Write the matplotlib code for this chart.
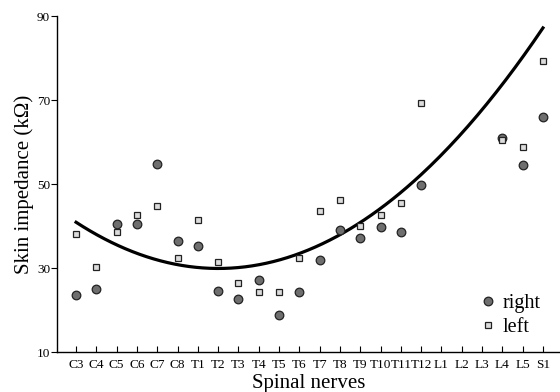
import matplotlib
matplotlib.use("Agg")
import matplotlib.pyplot as plt
import numpy as np

nerves = ["C3", "C4", "C5", "C6", "C7", "C8",
          "T1", "T2", "T3", "T4", "T5", "T6", "T7", "T8", "T9", "T10", "T11", "T12",
          "L1", "L2", "L3", "L4", "L5", "S1"]
right = [23.6, 24.9, 40.5, 40.5, 54.7, 36.4,
         35.2, 24.5, 22.6, 27.2, 18.8, 24.2, 31.8, 39.0, 37.2, 39.8, 38.6, 49.8,
         np.nan, np.nan, np.nan, 61.0, 54.6, 66.0]
left = [38.2, 30.2, 38.6, 42.7, 44.8, 32.5,
        41.4, 31.5, 26.5, 24.3, 24.4, 32.3, 43.6, 46.3, 40.1, 42.6, 45.6, 69.2,
        np.nan, np.nan, np.nan, 60.5, 58.9, 79.3]
# quadratic trend coefficients (a, b, c) for y = a*x^2 + b*x + c, x = nerve index
trend_coeffs = [0.224, -3.14, 40.9]
yticks = [10, 30, 50, 70, 90]

plt.rcParams['font.family'] = ['Liberation Serif', 'DejaVu Serif']

fig = plt.figure(figsize=(5.6, 3.92), dpi=100)
ax = fig.add_axes([0.1018, 0.102, 0.8982, 0.857])

x = np.arange(len(nerves))
xf = np.linspace(0, len(nerves) - 1, 200)
ax.plot(xf, np.polyval(trend_coeffs, xf), color='black', lw=2.3, zorder=2)

ax.plot(x, right, 'o', ms=6.2, mfc='#6e6e6e', mec='#222222', mew=0.9,
        label='right', zorder=3, linestyle='none')
ax.plot(x, left, 's', ms=5.0, mfc='#dcdcdc', mec='#222222', mew=0.9,
        label='left', zorder=3, linestyle='none')

ax.set_xlim(-0.94, 23.84)
ax.set_ylim(10, 90)
ax.set_xticks(x)
ax.set_xticklabels(nerves, fontsize=9.5)
ax.set_yticks(yticks)
ax.set_yticklabels([str(v) for v in yticks], fontsize=9.5)
ax.tick_params(axis='x', direction='in', length=4, width=0.8, pad=5)
ax.tick_params(axis='y', direction='out', length=4, width=0.8, pad=1)
for s in ['top', 'right']:
    ax.spines[s].set_visible(False)
for s in ['left', 'bottom']:
    ax.spines[s].set_linewidth(1.0)

ax.set_xlabel('Spinal nerves', fontsize=15, labelpad=2)
ax.set_ylabel('Skin impedance (kΩ)', fontsize=15, labelpad=2)

leg = ax.legend(loc='upper left', bbox_to_anchor=(0.836, 0.172), frameon=False,
                fontsize=14.5, handletextpad=0.25, handlelength=1.0,
                labelspacing=0.25, borderaxespad=0.0, borderpad=0.0)

fig.savefig('out.png', dpi=100)
